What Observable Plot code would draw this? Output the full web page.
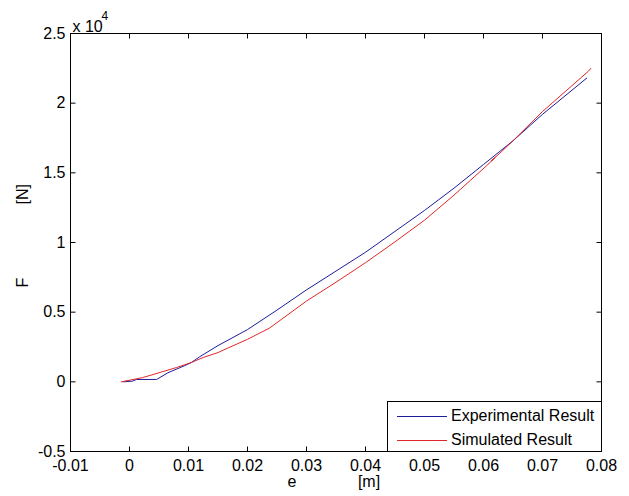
<!DOCTYPE html>
<html>
<head>
<meta charset="utf-8">
<script src="https://cdn.jsdelivr.net/npm/d3@7"></script>
<script src="https://cdn.jsdelivr.net/npm/@observablehq/plot@0.6"></script>
<style>
  body { margin: 0; background: #fff; font-family: "Liberation Sans", Arial, sans-serif; }
  #wrap { position: relative; width: 629px; height: 496px; }
  #legend { position: absolute; left: 387px; top: 401px; width: 213px; height: 49px; border: 1px solid #000; background: #fff; font-size: 16px; }
  #legend .row { position: absolute; left: 0; height: 20px; display: flex; align-items: center; }
  #legend .row span.l { display: inline-block; width: 50px; height: 0; border-top: 1px solid; margin-left: 9px; margin-right: 4px; }
</style>
</head>
<body>
<div id="wrap"></div>
<script>
const expE = [-0.001, 0.0005, 0.0012, 0.0046, 0.0065, 0.0093, 0.0105, 0.0119, 0.015, 0.02, 0.025, 0.03, 0.035, 0.04, 0.045, 0.05, 0.055, 0.06, 0.065, 0.07, 0.0775];
const expF = [0, 50, 170, 170, 650, 1150, 1390, 1800, 2600, 3750, 5150, 6600, 7950, 9300, 10800, 12300, 13900, 15600, 17300, 19200, 21800];
const simE = [-0.0014, 0.0022, 0.008, 0.0105, 0.0125, 0.015, 0.016, 0.02, 0.0237, 0.025, 0.03, 0.035, 0.04, 0.045, 0.05, 0.055, 0.0605, 0.062, 0.0613, 0.063, 0.065, 0.07, 0.0778, 0.0782];
const simF = [0, 300, 1030, 1390, 1750, 2100, 2300, 3050, 3850, 4250, 5800, 7150, 8550, 10050, 11600, 13400, 15500, 16100, 15850, 16500, 17300, 19400, 22300, 22500];
const xTicks = [-0.01, 0, 0.01, 0.02, 0.03, 0.04, 0.05, 0.06, 0.07, 0.08];
const xTickLabels = ["-0.01", "0", "0.01", "0.02", "0.03", "0.04", "0.05", "0.06", "0.07", "0.08"];
const yTicks = [-5000, 0, 5000, 10000, 15000, 20000, 25000];
const yTickLabels = ["-0.5", "0", "0.5", "1", "1.5", "2", "2.5"];
const seriesNames = ["Experimental Result", "Simulated Result"];
const seriesColors = ["#1c1c9c", "#e0262a"];

const exp = expE.map((e, i) => ({e, F: expF[i]}));
const sim = simE.map((e, i) => ({e, F: simF[i]}));
const xl = new Map(xTicks.map((t, i) => [t, xTickLabels[i]]));
const yl = new Map(yTicks.map((t, i) => [t, yTickLabels[i]]));

const W = 629, H = 496, mL = 70, mR = 28, mT = 33, mB = 45, T = 5;
const xDom = [xTicks[0], xTicks[xTicks.length - 1]];
const yDom = [yTicks[0], yTicks[yTicks.length - 1]];
// tick length of T pixels, expressed in each scale's units
const tx = (xDom[1] - xDom[0]) * T / (W - mL - mR);
const ty = (yDom[1] - yDom[0]) * T / (H - mT - mB);

const chart = Plot.plot({
  width: W,
  height: H,
  marginLeft: mL,
  marginRight: mR,
  marginTop: mT,
  marginBottom: mB,
  style: {fontFamily: "'Liberation Sans', Arial, sans-serif", fontSize: "16px", background: "#fff", color: "#000"},
  x: {domain: xDom},
  y: {domain: yDom},
  marks: [
    Plot.frame({stroke: "#000"}),
    Plot.axisX(xTicks, {anchor: "bottom", tickSize: 0, tickPadding: 8, tickFormat: d => xl.get(d), label: null, fontSize: 16, letterSpacing: "-0.5px"}),
    Plot.axisY(yTicks, {anchor: "left", tickSize: 0, tickPadding: 5, tickFormat: d => yl.get(d), label: null, fontSize: 16, letterSpacing: "-0.5px"}),
    Plot.link(xTicks, {x1: d => d, x2: d => d, y1: () => yDom[0], y2: () => yDom[0] + ty, stroke: "#000", strokeWidth: 1}),
    Plot.link(xTicks, {x1: d => d, x2: d => d, y1: () => yDom[1], y2: () => yDom[1] - ty, stroke: "#000", strokeWidth: 1}),
    Plot.link(yTicks, {y1: d => d, y2: d => d, x1: () => xDom[0], x2: () => xDom[0] + tx, stroke: "#000", strokeWidth: 1}),
    Plot.link(yTicks, {y1: d => d, y2: d => d, x1: () => xDom[1], x2: () => xDom[1] - tx, stroke: "#000", strokeWidth: 1}),
    Plot.line(exp, {x: "e", y: "F", stroke: seriesColors[0], strokeWidth: 1}),
    Plot.line(sim, {x: "e", y: "F", stroke: seriesColors[1], strokeWidth: 1}),
    Plot.text(["x 10"], {text: d => d, frameAnchor: "top-left", textAnchor: "start", dx: 2, dy: -13, fontSize: 16}),
    Plot.text(["4"], {text: d => d, frameAnchor: "top-left", textAnchor: "start", dx: 31, dy: -22, fontSize: 12}),
    Plot.text(["e"], {text: d => d, frameAnchor: "bottom", dx: -44, dy: 35, fontSize: 16}),
    Plot.text(["[m]"], {text: d => d, frameAnchor: "bottom", dx: 33, dy: 35, fontSize: 16}),
    Plot.text(["F"], {text: d => d, frameAnchor: "left", rotate: -90, dx: -48, dy: 45, fontSize: 16}),
    Plot.text(["[N]"], {text: d => d, frameAnchor: "left", rotate: -90, dx: -48, dy: -38, fontSize: 16})
  ]
});

const wrap = document.getElementById("wrap");
wrap.appendChild(chart);
const legend = document.createElement("div");
legend.id = "legend";
seriesNames.forEach((name, i) => {
  const row = document.createElement("div");
  row.className = "row";
  row.style.top = (4 + i * 24) + "px";
  const l = document.createElement("span");
  l.className = "l";
  l.style.borderTopColor = seriesColors[i];
  row.appendChild(l);
  row.appendChild(document.createTextNode(name));
  legend.appendChild(row);
});
wrap.appendChild(legend);
</script>
</body>
</html>
